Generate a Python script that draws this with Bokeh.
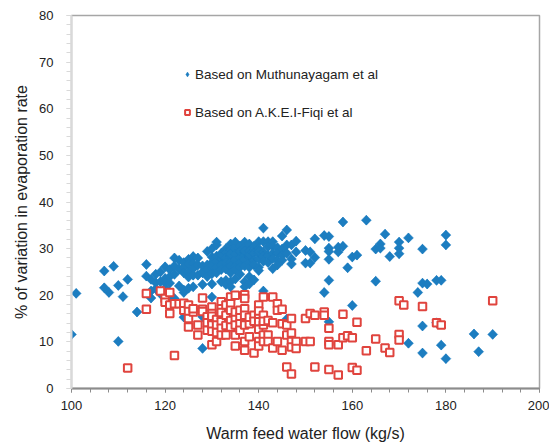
import math
from bokeh.plotting import figure
from bokeh.models import Legend, LegendItem, Range1d, FixedTicker
from bokeh.embed import file_html
from bokeh.resources import INLINE

# ---- data ----
blue_x = [100, 101, 107, 107, 108, 109, 110, 110, 111, 112, 114, 116, 116, 117, 117, 117,
          118, 118, 118, 119, 119, 119, 120, 120, 120, 120, 121, 121, 121, 121,
          122, 122, 122, 122, 123, 123, 123, 124, 124, 124, 124, 124, 124,
          125, 125, 125, 125, 125, 126, 126, 126, 126, 126, 127, 127, 127,
          128, 128, 128, 128, 128, 128, 129, 129, 129, 129,
          130, 130, 130, 130, 130, 130, 130, 130, 131, 131, 131, 131, 131, 131,
          132, 132, 132, 132, 132, 132, 133, 133, 133, 133, 133, 133, 133,
          134, 134, 134, 134, 134, 134, 134, 134, 134, 135, 135, 135, 135, 135, 135, 135,
          136, 136, 136, 136, 136, 136, 137, 137, 137, 137, 137, 137, 137, 137,
          138, 138, 138, 138, 138, 138, 138, 138, 139, 139, 139, 139, 139,
          140, 140, 140, 140, 140, 140, 140, 141, 141, 141, 141, 141, 141,
          142, 142, 142, 142, 143, 143, 143, 143, 143, 144, 144, 144, 144,
          145, 145, 145, 145, 146, 146, 146, 146, 147, 147, 147, 148, 148,
          150, 150, 151, 151, 152, 152, 154, 154, 155, 155, 155, 155, 155, 155,
          157, 157, 158, 158, 159, 160, 160, 161, 163, 165, 165, 166, 166, 167, 168,
          170, 170, 170, 172, 172, 174, 175, 175, 175, 175, 176, 178, 178, 179, 179,
          180, 180, 180, 186, 187, 190]
blue_y = [11.6, 20.4, 25.2, 21.6, 20.6, 26.2, 22.1, 10.1, 19.7, 23.4, 16.4, 26.6, 24.1, 23.4, 20.9, 19.4,
          24.5, 21.4, 22.7, 22.9, 25.0, 20.3, 26.1, 23.6, 21.5, 22.7, 25.5, 24.0, 22.6, 20.0,
          28.0, 26.3, 19.3, 24.5, 27.5, 25.6, 22.0, 27.0, 26.0, 24.8, 20.6, 15.3, 21.1,
          27.7, 26.7, 25.0, 23.9, 21.5, 28.3, 26.8, 25.7, 21.8, 24.3, 28.0, 26.5, 24.3,
          25.0, 26.3, 15.4, 8.6, 22.3, 24.8, 29.4, 26.5, 25.5, 24.0,
          30.0, 28.2, 27.0, 25.8, 24.6, 22.4, 19.6, 26.4, 31.4, 30.8, 28.4, 27.2, 26.0, 24.8,
          29.0, 27.8, 26.5, 25.5, 22.9, 28.6, 30.0, 29.2, 28.0, 27.0, 25.6, 23.2, 22.3,
          31.0, 29.7, 28.4, 27.1, 26.3, 24.8, 22.9, 21.8, 28.9, 31.4, 30.0, 28.8, 27.4, 26.2, 25.5, 23.5,
          30.5, 29.4, 28.1, 27.0, 26.0, 24.5, 31.4, 30.3, 28.6, 27.6, 26.3, 22.9, 21.8, 29.5,
          31.0, 29.5, 28.2, 27.0, 26.0, 24.0, 22.4, 28.7, 30.5, 29.0, 27.5, 26.5, 23.3,
          31.5, 30.0, 28.9, 27.8, 26.0, 25.3, 29.4, 34.4, 31.5, 29.3, 28.3, 27.3, 20.9,
          31.5, 30.4, 28.5, 27.0, 31.5, 30.5, 29.0, 27.9, 25.7, 30.2, 29.0, 27.4, 26.5,
          32.7, 29.9, 28.5, 27.5, 34.0, 30.8, 29.0, 14.9, 30.8, 27.8, 26.7, 31.6, 29.3,
          29.6, 26.9, 29.3, 26.9, 32.1, 28.1, 32.8, 20.6, 32.6, 30.1, 29.4, 27.7, 23.2, 14.3,
          29.3, 30.3, 35.7, 30.5, 25.9, 28.2, 17.8, 28.6, 36.1, 29.9, 23.0, 31.0, 30.1, 33.1, 28.3,
          31.4, 30.1, 28.9, 32.3, 9.7, 20.6, 29.9, 22.6, 13.4, 7.6, 22.4, 23.2, 14.1, 23.2, 9.3,
          32.9, 30.8, 6.4, 11.7, 7.9, 11.6]

red_x = [112, 116, 116, 119, 120, 120, 121, 121, 121, 122, 122, 123, 124, 124, 124,
         125, 125, 125, 125, 126, 126, 127, 127, 128, 128, 128, 129, 129, 129,
         130, 130, 130, 130, 130, 130, 130, 131, 131, 131, 131,
         132, 132, 132, 132, 132, 132, 132, 133, 133, 133, 133, 134, 134, 134, 134, 134,
         135, 135, 135, 135, 135, 135, 136, 136, 136, 136,
         137, 137, 137, 137, 137, 137, 137, 138, 138, 138, 139, 139, 139,
         140, 140, 140, 140, 140, 140, 140, 141, 141, 141, 141, 141, 141,
         142, 142, 142, 143, 143, 143, 144, 144, 144, 145, 145, 145, 146, 146, 146,
         147, 147, 147, 147, 147, 148, 148, 150, 150, 151, 151, 152, 152, 154, 154,
         155, 155, 155, 155, 157, 157, 158, 158, 159, 160, 160, 161, 161, 163, 165, 167, 168,
         170, 170, 170, 171, 175, 178, 179, 190]
red_y = [4.4, 20.4, 17.0, 20.9, 19.3, 18.5, 20.6, 17.9, 16.1, 18.2, 7.1, 18.2, 17.9, 16.8, 18.3,
         17.9, 16.5, 15.0, 13.2, 16.4, 17.1, 13.6, 11.5, 19.4, 17.0, 16.5, 15.4, 14.1, 12.5,
         17.5, 16.1, 14.8, 13.6, 12.3, 9.4, 15.5, 14.8, 13.6, 10.1, 12.0,
         18.6, 17.1, 15.7, 14.3, 12.9, 11.5, 16.3, 17.9, 15.7, 11.5, 13.5, 19.6, 18.2, 16.8, 14.6, 13.2,
         20.0, 15.0, 13.6, 11.5, 9.1, 16.4, 15.4, 13.9, 12.5, 16.8,
         20.1, 19.3, 17.1, 15.7, 13.6, 10.1, 8.2, 13.9, 11.1, 15.3, 15.7, 14.4, 7.6,
         17.9, 15.7, 14.3, 10.1, 9.1, 16.6, 12.7, 19.6, 15.7, 13.6, 11.5, 10.1, 14.4,
         14.6, 11.5, 10.1, 19.6, 14.1, 8.7, 18.2, 16.8, 10.1, 17.0, 13.9, 8.2, 13.6, 11.5, 4.6,
         15.0, 11.9, 10.1, 8.9, 3.1, 10.1, 8.6, 15.0, 10.1, 16.1, 10.1, 15.7, 4.6, 16.4, 15.7,
         12.9, 10.1, 9.4, 4.1, 9.4, 2.9, 15.9, 10.9, 11.3, 10.9, 4.5, 14.2, 3.9, 8.1, 10.6, 8.7, 7.7,
         18.8, 11.6, 10.4, 17.9, 17.6, 14.1, 13.6, 18.8]

series_labels = ["Based on Muthunayagam et al", "Based on A.K.E.I-Fiqi et al"]
x_ticks = [100, 120, 140, 160, 180, 200]
y_ticks = [0, 10, 20, 30, 40, 50, 60, 70, 80]

BLUE = "#1C7DC0"
RED = "#E0443E"
FONT = "Liberation Sans"

p = figure(width=549, height=446, output_backend="svg", toolbar_location=None,
           x_range=Range1d(100, 200), y_range=Range1d(0, 80),
           min_border_left=71, min_border_right=10, min_border_top=15, min_border_bottom=58)
p.xgrid.visible = False
p.ygrid.visible = False
p.outline_line_color = "#A6A6A6"
p.outline_line_width = 1.5

# legend key glyph: a diamond drawn under each blue marker (fully covered by it)
b_key = p.scatter(blue_x, blue_y, marker="diamond", size=9.5, fill_color=BLUE, line_color=BLUE,
                  line_width=0.5)
b = p.scatter(blue_x, blue_y, marker="square", angle=math.pi / 4, size=7,
              fill_color=BLUE, line_color=BLUE, line_width=0.5)
r = p.scatter(red_x, red_y, marker="square", size=7.5, fill_color="white",
              line_color=RED, line_width=2)

# axes
p.xaxis.ticker = FixedTicker(ticks=x_ticks, minor_ticks=list(range(100, 201, 4)))
p.yaxis.ticker = FixedTicker(ticks=y_ticks, minor_ticks=list(range(0, 81, 2)))
for ax in (p.xaxis[0], p.yaxis[0]):
    ax.major_label_text_font = FONT
    ax.major_label_text_font_size = "13px"
    ax.major_label_text_color = "#222222"
    ax.axis_label_text_font = FONT
    ax.axis_label_text_font_size = "16px"
    ax.axis_label_text_font_style = "normal"
    ax.axis_label_text_color = "#222222"
    ax.major_tick_in = 0
    ax.minor_tick_in = 0
p.xaxis.major_tick_out = 4
p.xaxis.minor_tick_out = 4
p.yaxis.major_tick_out = 5
p.yaxis.minor_tick_out = 5
p.xaxis.axis_label = "Warm feed water flow (kg/s)"
p.yaxis.axis_label = "% of variation in evaporation rate"
p.xaxis.axis_label_standoff = 12
p.yaxis.axis_label_standoff = 6
p.xaxis.axis_line_color = "#8C8C8C"
p.xaxis.major_tick_line_color = "#8C8C8C"
p.xaxis.minor_tick_line_color = "#8C8C8C"
p.xaxis.axis_line_width = 2
p.yaxis.axis_line_color = "#D9D9D9"
p.yaxis.major_tick_line_color = "#D9D9D9"
p.yaxis.minor_tick_line_color = "#D9D9D9"
p.yaxis.axis_line_width = 2
p.xaxis.major_label_standoff = 8
p.yaxis.major_label_standoff = 13

legend = Legend(items=[LegendItem(label=series_labels[0], renderers=[b_key]),
                       LegendItem(label=series_labels[1], renderers=[r])],
                location=(110, 266))
legend.border_line_color = None
legend.background_fill_alpha = 0
legend.padding = 0
legend.margin = 0
legend.spacing = 18
legend.glyph_width = 12
legend.glyph_height = 20
legend.label_standoff = 2
legend.label_text_font = FONT
legend.label_text_font_size = "13.5px"
legend.label_text_color = "#222222"
p.add_layout(legend)

open("out.html", "w").write(file_html(p, INLINE))
